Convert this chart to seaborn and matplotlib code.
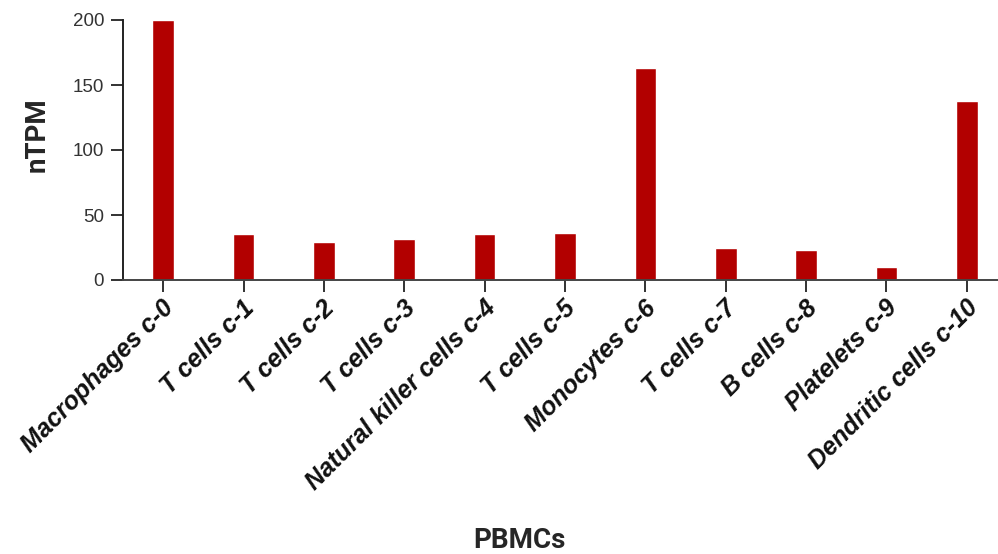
#!/usr/bin/env python3

import matplotlib.pyplot as plt
import matplotlib.transforms as mtransforms
import pandas as pd
import seaborn as sns

clusters = [
    "Macrophages c-0",
    "T cells c-1",
    "T cells c-2",
    "T cells c-3",
    "Natural killer cells c-4",
    "T cells c-5",
    "Monocytes c-6",
    "T cells c-7",
    "B cells c-8",
    "Platelets c-9",
    "Dendritic cells c-10",
]
ntpm = [200.0, 35.4, 29.0, 31.3, 35.4, 35.9, 162.8, 24.8, 23.3, 9.8, 137.9]
y_ticks = [0, 50, 100, 150, 200]


def main():
    sns.set_style("ticks")
    plt.rcParams["font.family"] = ["Liberation Sans", "DejaVu Sans"]

    df = pd.DataFrame({"cluster": clusters, "nTPM": ntpm})

    fig = plt.figure(figsize=(9.98, 5.54), dpi=100)
    ax = fig.add_axes([123 / 998, 1 - 280 / 554, 884 / 998, 260 / 554])

    sns.barplot(data=df, x="cluster", y="nTPM", color="#b20000", width=0.27,
                saturation=1, ax=ax)

    ax.set_xlim(-0.5, 10.5)
    ax.set_ylim(0, 200)
    ax.set_yticks(y_ticks)

    for side in ["top", "right"]:
        ax.spines[side].set_visible(False)
    ax.spines["left"].set_linewidth(1.4)
    ax.spines["left"].set_color("#222222")
    ax.spines["bottom"].set_linewidth(1.4)
    ax.spines["bottom"].set_color("#444444")

    ax.tick_params(axis="y", length=8.5, width=1.3, color="#222222",
                   labelsize=13.5, labelcolor="#333333", pad=5)
    ax.tick_params(axis="x", length=8.5, width=1.3, color="#222222", pad=9)

    ax.set_xticks(range(len(clusters)))
    ax.set_xticklabels(clusters, rotation=45, ha="right", va="center",
                       rotation_mode="anchor", fontsize=18, fontweight="bold",
                       fontstyle="italic", color="#111111")
    shift = mtransforms.ScaledTranslation(7 / 100, 0, fig.dpi_scale_trans)
    for label in ax.get_xticklabels():
        label.set_transform(label.get_transform() + shift)

    ax.set_ylabel("nTPM", fontsize=20, fontweight="bold", family="Roboto")
    ax.set_xlabel("PBMCs", fontsize=20, fontweight="bold", family="Roboto")
    ax.yaxis.set_label_coords(-0.082, 0.558)
    ax.xaxis.set_label_coords(0.449, -0.95)

    plt.savefig("out.png", dpi=100)
    plt.close()


if __name__ == "__main__":
    main()
